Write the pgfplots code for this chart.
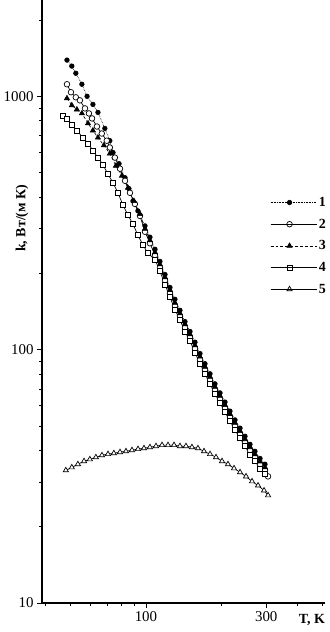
\documentclass[border=0pt]{standalone}
\usepackage{fontspec}
\setmainfont{Liberation Serif}
\usepackage{pgfplots}
\pgfplotsset{compat=1.18}
\begin{document}
\begin{tikzpicture}
\begin{axis}[
  scale only axis, width=283bp, height=603bp,
  xmode=log, ymode=log,
  xmin=38.7, xmax=513, ymin=10, ymax=2400,
  axis x line*=bottom, axis y line*=left,
  axis line style={-, line width=1.2bp},
  tick align=outside,
  major tick length=5bp, minor tick length=3bp,
  tick style={line width=0.8bp, black},
  xtick={100,300}, xticklabels={100,300},
  ytick={10,100,1000}, yticklabels={10,100,1000},
  minor xtick={40,50,60,70,80,90,200,400,500},
  minor ytick={20,30,40,50,60,70,80,90,200,300,400,500,600,700,800,900,2000},
  tick label style={font=\fontsize{15}{17}\selectfont},
  /pgf/number format/assume math mode=true,
  ylabel={\bfseries k, Вт/(м К)},
  ylabel style={at={(axis description cs:-0.071,0.638)}, anchor=center, font=\fontsize{14}{16}\selectfont},
  xlabel={\bfseries T, K},
  xlabel style={at={(axis description cs:0.954,-0.028)}, anchor=center, font=\fontsize{14}{16}\selectfont},
  legend style={draw=none, fill=none, at={(axis description cs:0.795,0.68)}, anchor=north west,
    font=\bfseries\fontsize{14}{16}\selectfont, row sep=7bp},
  legend cell align=left,
  legend image code/.code={\draw[mark repeat=2,mark phase=2,#1] plot coordinates {(0bp,0bp) (19bp,0bp) (38bp,0bp)};
    \path (0bp,0bp) -- (46bp,0bp);},
]
\coordinate (bl) at (rel axis cs:0,0);
% series 1
\addplot[black, densely dotted, line width=0.6bp, mark=*, mark size=2.3bp, mark options={solid}] coordinates {
(48.6,1390) (50.8,1316) (52.7,1233) (55.7,1116) (58.4,1000) (61.6,929) (64.5,864) (68.7,747) (71.9,668) (74.0,600)
(78.2,542) (82.6,477) (85.6,432) (88.8,386) (92.9,353)
(99.1,308) (103.7,278) (108.6,249) (113.6,223) (119.0,198) (124.5,176) (130.3,158) (136.4,143) (142.8,129) (149.5,118)
(156.5,107) (163.8,96.5) (171.4,88) (179.5,80.3) (187.8,73.3) (196.7,67.5) (205.8,62.1) (215.4,57.2) (225.5,52.8)
(236.1,49.0) (247.1,45.5) (258.6,42.3) (270.6,39.7) (283.4,37.2) (296.6,35.3)
};
\addlegendentry{1}
% series 2
\addplot[black, line width=0.7bp, mark=*, mark size=2.8bp, mark options={solid, fill=white}] coordinates {
(48.6,1116) (50.4,1038) (52.7,991) (54.7,964) (57.3,896) (59.4,856) (61.1,818) (63.9,760) (66.8,713) (69.9,668)
(71.9,628) (75.3,573) (78.9,518) (82.6,464) (86.4,416) (90.4,376) (94.7,337)
(99.1,292) (103.7,263) (108.6,236) (113.6,211) (119.0,188) (124.5,167) (130.3,149) (136.4,136) (142.8,122) (149.5,112)
(156.5,101) (163.8,91.3) (171.4,83.3) (179.5,76.0) (187.8,69.4) (196.7,63.9) (205.8,58.8) (215.4,54.2) (225.5,50.0)
(236.1,46.4) (247.1,43.1) (258.6,40.1) (270.6,37.6) (283.4,35.3) (296.6,33.4) (304.9,31.6)
};
\addlegendentry{2}
% series 3
\addplot[black, densely dashed, line width=0.6bp, mark=triangle*, mark size=3bp, mark options={solid}] coordinates {
(48.6,982) (50.8,921) (53.2,887) (55.7,856) (58.9,782) (61.6,733) (64.5,687) (68.1,640) (71.9,594) (76.0,532)
(80.3,486) (84.8,435) (89.6,386) (94.7,343)
(99.1,300) (103.7,270) (108.6,242) (113.6,217) (119.0,193) (124.5,172) (130.3,153) (136.4,139) (142.8,126) (149.5,115)
(156.5,104) (163.8,93.8) (171.4,85.6) (179.5,78.1) (187.8,71.3) (196.7,65.7) (205.8,60.4) (215.4,55.7) (225.5,51.4)
(236.1,47.7) (247.1,44.3) (258.6,41.2) (270.6,38.6) (283.4,36.2) (296.6,34.3)
};
\addlegendentry{3}
% series 4
\addplot[black, line width=0.7bp, mark=square*, mark size=2.5bp, mark options={solid, fill=white}] coordinates {
(46.8,841) (48.6,818) (50.8,774) (53.2,733) (56.2,687) (58.9,651) (61.6,611) (64.5,573) (67.5,537) (70.6,494)
(74.0,456) (77.4,416) (81.0,373) (84.8,340) (88.8,313) (92.9,283) (97.3,259) (101.8,240)
(108.6,227) (113.6,204) (119.0,181) (124.5,161) (130.3,144) (136.4,131) (142.8,118) (149.5,108) (156.5,97.4)
(163.8,88.1) (171.4,80.3) (179.5,73.3) (187.8,67.0) (196.7,61.6) (205.8,56.7) (215.4,52.3) (225.5,48.2)
(236.1,44.8) (247.1,41.6) (258.6,38.6) (270.6,36.3) (283.4,34.0) (296.6,32.2)
};
\addlegendentry{4}
% series 5
\addplot[black, line width=0.7bp, mark=triangle*, mark size=3bp, mark options={solid, fill=white}] coordinates {
(48.1,33.4) (50.8,34.3) (53.7,35.3) (56.8,36.3) (59.9,36.9) (63.3,37.6) (66.9,38.3) (70.7,38.7) (74.6,39.0)
(78.9,39.4) (83.3,39.7) (88.0,40.1) (93.0,40.5) (98.2,40.8) (103.7,41.2) (109.6,41.6) (115.8,42.0) (122.3,42.0)
(129.2,42.0) (136.4,41.6) (144.1,41.6) (152.2,41.2) (160.8,40.8) (169.9,39.7) (179.5,38.7) (189.6,37.6)
(200.3,36.3) (211.5,35.3) (223.5,34.0) (236.1,32.8) (249.4,31.6) (263.4,30.2) (278.3,29.1) (294.0,27.8) (305.0,26.6)
};
\addlegendentry{5}
\end{axis}
\pgfresetboundingbox
\path ([shift={(-42bp,-29bp)}]bl) rectangle ++(330bp,632bp);
\end{tikzpicture}
\end{document}
